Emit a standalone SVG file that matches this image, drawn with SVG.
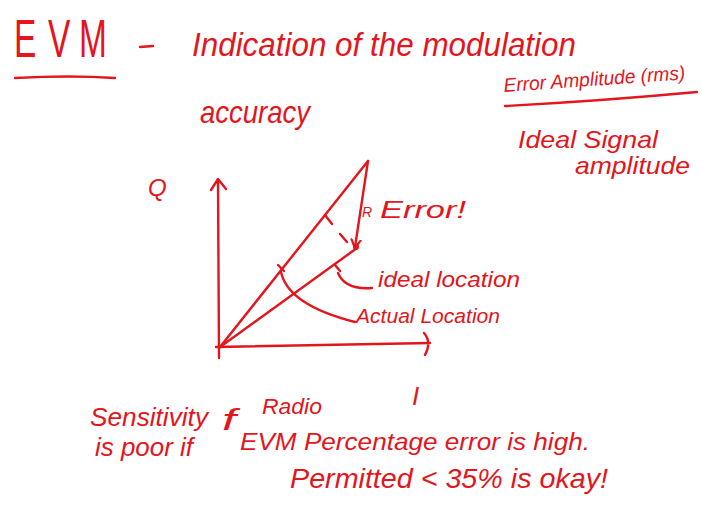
<svg xmlns="http://www.w3.org/2000/svg" width="702" height="505" viewBox="0 0 702 505">
<style>
.t{font-family:"Liberation Sans","DejaVu Sans",sans-serif;fill:#e3151d;font-style:italic}
.e{font-family:"Liberation Sans","DejaVu Sans",sans-serif;fill:#e3151d;font-size:54px;font-weight:300}
.s{stroke:#e3151d;stroke-width:2.4;fill:none;stroke-linecap:round;stroke-linejoin:round}
</style>
<defs>
<marker id="ah" markerWidth="12" markerHeight="12" refX="8" refY="6" orient="auto" markerUnits="userSpaceOnUse">
<path d="M0,1 L9,6 L0,11" fill="none" stroke="#e3151d" stroke-width="2.2"/>
</marker>
</defs>
<rect width="702" height="505" fill="#fff"/>
<!-- title -->
<text class="e" transform="translate(14,57) scale(0.62,1)" x="0 55 105" y="0">EVM</text>
<path class="s" d="M15,78 Q70,75 115,78"/>
<path class="s" d="M140,47 L153,46"/>
<text class="t" x="192" y="56" font-size="34" textLength="384" lengthAdjust="spacingAndGlyphs">Indication of the modulation</text>
<text class="t" x="200" y="123" font-size="32" textLength="110" lengthAdjust="spacingAndGlyphs">accuracy</text>
<!-- formula -->
<text class="t" x="504" y="92" font-size="19.5" textLength="182" lengthAdjust="spacingAndGlyphs" transform="rotate(-4 504 92)">Error Amplitude (rms)</text>
<path class="s" d="M505,106 Q600,101 697,92"/>
<text class="t" x="518" y="148" font-size="24" textLength="140" lengthAdjust="spacingAndGlyphs">Ideal Signal</text>
<text class="t" x="575" y="174" font-size="24" textLength="115" lengthAdjust="spacingAndGlyphs">amplitude</text>
<!-- graph -->
<g id="axes">
<text class="t" x="148" y="196" font-size="24" font-style="normal">Q</text>
<path class="s" d="M219,358 L218,180 M211,190 L218,179 L226,189"/>
<path class="s" d="M216,347 L430,343 M424,333 Q432,342 425,355"/>
<text class="t" x="412" y="405" font-size="26" font-style="normal">I</text>
</g>
<g id="vectors">
<path class="s" d="M220,347 L368,161"/>
<path class="s" d="M220,347 L357,248"/>
<path class="s" d="M368,161 L355,247" marker-end="url(#ah)"/>
<circle cx="356" cy="247" r="3" fill="#e3151d"/>
<path class="s" d="M325,215 L332,224 M340,234 L347,242"/>
<path class="s" d="M278,265 L284,271 M335,265 L340,271"/>
<path class="s" d="M281,272 Q288,305 355,322"/>
<path class="s" d="M338,273 Q345,290 372,288"/>
</g>
<text class="t" x="362" y="217" font-size="14" font-style="normal">R</text>
<text class="t" x="380" y="218" font-size="24" textLength="86" lengthAdjust="spacingAndGlyphs">Error!</text>
<text class="t" x="378" y="287" font-size="22" textLength="142" lengthAdjust="spacingAndGlyphs">ideal location</text>
<text class="t" x="356" y="323" font-size="20" textLength="144" lengthAdjust="spacingAndGlyphs">Actual Location</text>
<!-- bottom notes -->
<text class="t" x="90" y="426" font-size="26" textLength="118" lengthAdjust="spacingAndGlyphs">Sensitivity</text>
<text class="t" x="222" y="430" font-size="30" textLength="14" lengthAdjust="spacingAndGlyphs">f</text>
<text class="t" x="262" y="414" font-size="22" textLength="60" lengthAdjust="spacingAndGlyphs">Radio</text>
<text class="t" x="95" y="456" font-size="26" textLength="98" lengthAdjust="spacingAndGlyphs">is poor if</text>
<text class="t" x="240" y="450" font-size="24" textLength="350" lengthAdjust="spacingAndGlyphs">EVM Percentage error is high.</text>
<text class="t" x="290" y="488" font-size="28" textLength="318" lengthAdjust="spacingAndGlyphs">Permitted &lt; 35% is okay!</text>
</svg>
